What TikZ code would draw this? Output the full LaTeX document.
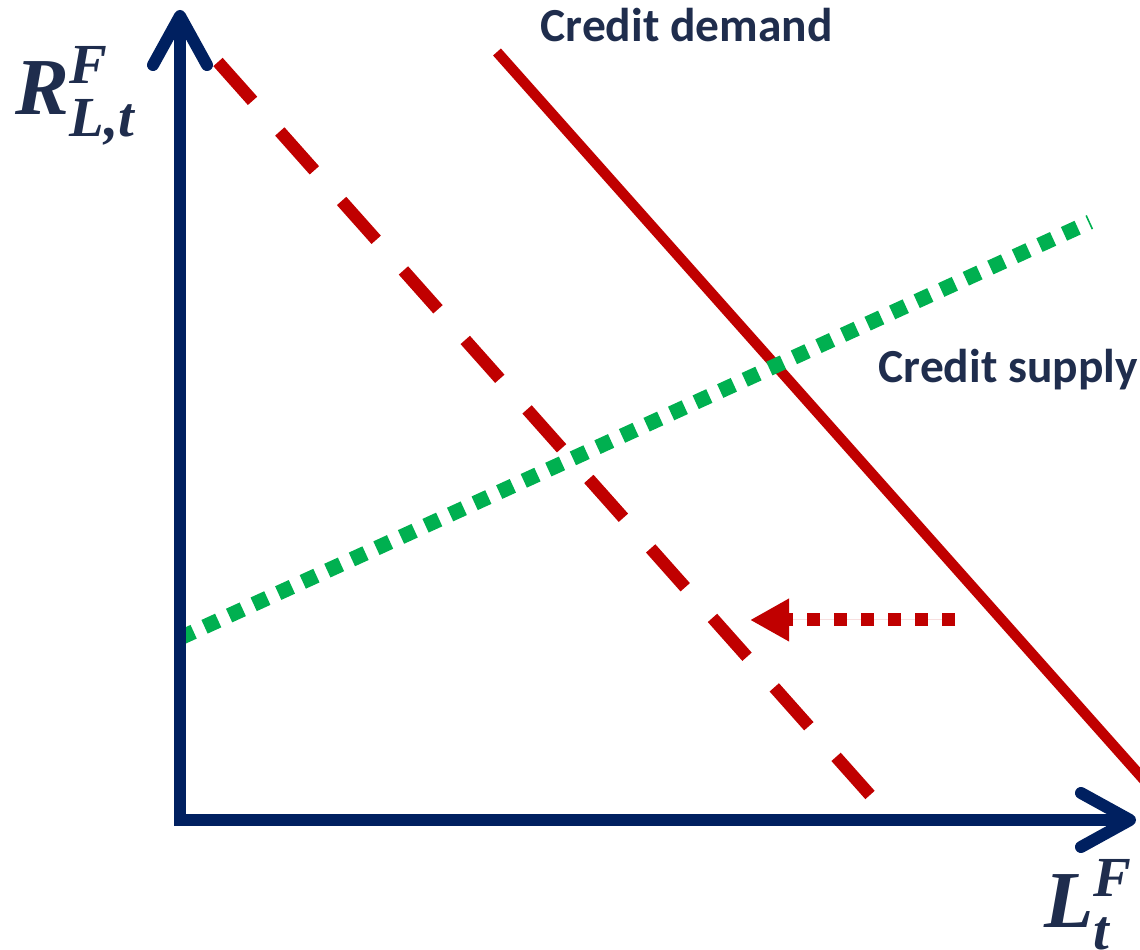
\documentclass[tikz,border=0pt]{standalone}
\usepackage{amsmath}
\usepackage{fontspec}
\setmainfont{Carlito}
\newfontfamily\lblfont{Liberation Serif}
\usetikzlibrary{arrows.meta,positioning}
\definecolor{axnavy}{HTML}{002060}
\definecolor{txtnavy}{HTML}{1F2D4D}
\definecolor{crimson}{HTML}{C00000}
\definecolor{leafgreen}{HTML}{00B050}
\newcommand{\bivar}[1]{\text{\lblfont\bfseries\itshape #1}}
\tikzset{
  >={Straight Barb[round,length=4.9mm,width=5.4mm]},
  % akser
  ax/.style={draw=axnavy,line width=1.2mm,line join=miter},
  mlbl/.style={text=txtnavy,inner sep=0pt,font=\fontsize{23}{26}\selectfont},
  lbl/.style={text=txtnavy,inner sep=0pt,font=\fontsize{13.5}{16}\selectfont\bfseries},
  % kurvor
  dem/.style={draw=crimson,line width=1.05mm},
  demshift/.style={draw=crimson,line width=1.25mm,dash pattern=on 5.2mm off 4.1mm},
  sup/.style={draw=leafgreen,line width=1.5mm,dash pattern=on 1.5mm off 1.2mm},
  shiftarr/.style={draw=crimson,fill=crimson,line width=1.3mm,dash pattern=on 1.3mm off 1.4mm,
                   -{Triangle[length=3.9mm,width=4mm]}},
}
\begin{document}
\begin{tikzpicture}
  \useasboundingbox (0,0) rectangle (11.4,9.5);
  \coordinate (o) at (1.80,1.30);
  \coordinate (ytip) at (1.80,9.40);
  \coordinate (xtip) at (11.36,1.30);
  \coordinate (d1) at (4.97,8.98);
  \coordinate (d2) at (11.53,1.60);
  \coordinate (n1) at (2.18,8.88);
  \coordinate (n2) at (8.70,1.55);
  \coordinate (s1) at (1.80,3.12);
  \coordinate (s2) at (10.90,7.28);
  \coordinate (a1) at (9.55,3.30);
  \coordinate (a2) at (7.50,3.30);
  \node[mlbl,anchor=base west] (rlbl) at (0.15,8.35) {$\bivar{R}^{\bivar{F}}_{\bivar{L,t}}$};
  \node[mlbl,anchor=base east] (llbl) at (11.34,0.22) {$\bivar{L}^{\bivar{F}}_{\bivar{t}}$};
  \node[lbl,anchor=base west] (dlbl) at (5.40,9.08) {Credit demand};
  \node[lbl,anchor=base west] (slbl) at (8.78,5.67) {Credit supply};
  \draw[demshift] (n1) -- (n2);
  \draw[dem] (d1) -- (d2);
  \draw[sup] (s1) -- (s2);
  \draw[shiftarr] (a1) -- (a2);
  \draw[ax,<->] (ytip) -- (o) -- (xtip);
\end{tikzpicture}
\end{document}
